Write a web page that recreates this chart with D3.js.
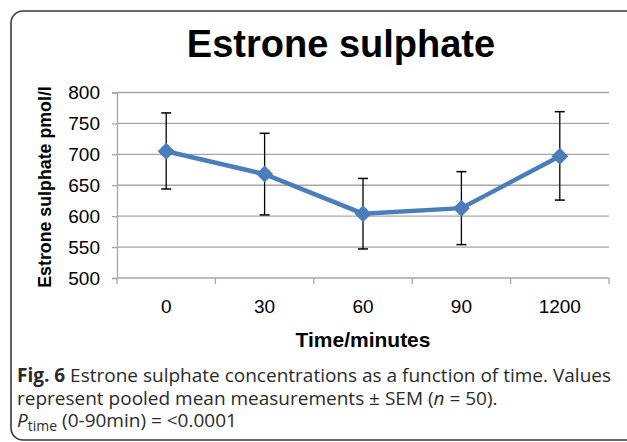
<!DOCTYPE html>
<html>
<head>
<meta charset="utf-8">
<script src="https://cdn.jsdelivr.net/npm/d3@7"></script>
<style>
  body { margin: 0; background: #fff; }
  svg { display: block; }
</style>
</head>
<body>
<div id="chart"></div>
<script>
var times = ["0", "30", "60", "90", "1200"];
var means = [705, 668, 604, 613, 697];
var upper = [767, 734, 661, 672, 769];
var lower = [644, 602, 547, 554, 626];
var yTicks = [500, 550, 600, 650, 700, 750, 800];

var W = 627, H = 442;
var plot = { left: 117, right: 609, top: 92.5, bottom: 278 };

var svg = d3.select("#chart").append("svg")
            .attr("width", W)
            .attr("height", H);

// frame round the chart
svg.append("rect")
   .attr("x", 11).attr("y", 11)
   .attr("width", 640).attr("height", 429)
   .attr("rx", 12)
   .style("fill", "none")
   .style("stroke", "#3a3a3a")
   .style("stroke-width", 1.6);

var x = d3.scaleBand().domain(times).range([plot.left, plot.right]);
var y = d3.scaleLinear().domain([500, 800]).range([plot.bottom, plot.top]);

// gridlines
svg.append("g")
   .selectAll("line")
   .data(yTicks.slice(1))
   .enter().append("line")
   .attr("x1", plot.left).attr("x2", plot.right)
   .attr("y1", function(d) { return y(d); })
   .attr("y2", function(d) { return y(d); })
   .style("stroke", "#a6a6a6")
   .style("stroke-width", 1.3);

// y axis
var yAxis = svg.append("g")
               .attr("transform", "translate(" + plot.left + ",0)")
               .call(d3.axisLeft(y).tickValues(yTicks).tickSize(5).tickPadding(12));
yAxis.selectAll("path, line").style("stroke", "#a6a6a6").style("stroke-width", 1.3);
yAxis.selectAll("text")
     .style("font-family", "Liberation Sans, Arial, sans-serif")
     .style("font-size", "19px")
     .style("fill", "#000");

// x axis, ticks sit between the categories
var xAxis = svg.append("g")
               .attr("transform", "translate(0," + plot.bottom + ")");
xAxis.append("line")
     .attr("x1", plot.left).attr("x2", plot.right)
     .style("stroke", "#a6a6a6").style("stroke-width", 1.3);
xAxis.selectAll("line.tick")
     .data(times.concat(["end"]))
     .enter().append("line")
     .attr("class", "tick")
     .attr("x1", function(d, i) { return plot.left + i * x.bandwidth(); })
     .attr("x2", function(d, i) { return plot.left + i * x.bandwidth(); })
     .attr("y1", 0).attr("y2", 6)
     .style("stroke", "#a6a6a6").style("stroke-width", 1.3);
xAxis.selectAll("text")
     .data(times)
     .enter().append("text")
     .attr("x", function(d) { return x(d) + x.bandwidth() / 2; })
     .attr("y", 35)
     .attr("text-anchor", "middle")
     .style("font-family", "Liberation Sans, Arial, sans-serif")
     .style("font-size", "19px")
     .text(function(d) { return d; });

var cx = function(i) { return x(times[i]) + x.bandwidth() / 2; };

// error bars
var err = svg.append("g").selectAll("g")
             .data(means)
             .enter().append("g");
err.append("line")
   .attr("x1", function(d, i) { return cx(i); })
   .attr("x2", function(d, i) { return cx(i); })
   .attr("y1", function(d, i) { return y(upper[i]); })
   .attr("y2", function(d, i) { return y(lower[i]); })
   .style("stroke", "#000").style("stroke-width", 1.3);
[upper, lower].forEach(function(arr) {
  err.append("line")
     .attr("x1", function(d, i) { return cx(i) - 5; })
     .attr("x2", function(d, i) { return cx(i) + 5; })
     .attr("y1", function(d, i) { return y(arr[i]); })
     .attr("y2", function(d, i) { return y(arr[i]); })
     .style("stroke", "#000").style("stroke-width", 1.5);
});

// mean line
var line = d3.line()
             .x(function(d, i) { return cx(i); })
             .y(function(d) { return y(d); });
svg.append("path")
   .datum(means)
   .attr("d", line)
   .style("fill", "none")
   .style("stroke", "#4a7ebb")
   .style("stroke-width", 4.5)
   .style("stroke-linejoin", "round");

// diamond markers
svg.append("g").selectAll("path")
   .data(means)
   .enter().append("path")
   .attr("transform", function(d, i) { return "translate(" + cx(i) + "," + y(d) + ")"; })
   .attr("d", "M0,-8.5L8.5,0L0,8.5L-8.5,0Z")
   .style("fill", "#4a7ebb");

// titles
svg.append("text")
   .attr("x", 341).attr("y", 57)
   .attr("text-anchor", "middle")
   .style("font-family", "Liberation Sans, Arial, sans-serif")
   .style("font-weight", "bold")
   .style("font-size", "38px")
   .text("Estrone sulphate");

svg.append("text")
   .attr("transform", "translate(51,187) rotate(-90)")
   .attr("text-anchor", "middle")
   .style("font-family", "Liberation Sans, Arial, sans-serif")
   .style("font-weight", "bold")
   .style("font-size", "17.8px")
   .text("Estrone sulphate pmol/l");

svg.append("text")
   .attr("x", 363).attr("y", 347)
   .attr("text-anchor", "middle")
   .style("font-family", "Liberation Sans, Arial, sans-serif")
   .style("font-weight", "bold")
   .style("font-size", "21px")
   .text("Time/minutes");

// caption, one text block with a tspan per line
var cap = svg.append("text")
             .attr("x", 17).attr("y", 382)
             .style("font-family", "Open Sans, sans-serif")
             .style("font-size", "19px")
             .style("fill", "#2a2a2a");
cap.append("tspan").style("font-weight", "bold").text("Fig. 6");
cap.append("tspan").text(" Estrone sulphate concentrations as a function of time. Values");
cap.append("tspan").attr("x", 17).attr("dy", 23).text("represent pooled mean measurements \u00b1 SEM (");
cap.append("tspan").style("font-style", "italic").text("n");
cap.append("tspan").text(" = 50).");
cap.append("tspan").attr("x", 17).attr("dy", 22).style("font-style", "italic").text("P");
cap.append("tspan").attr("dy", 4).style("font-size", "14px").text("time");
cap.append("tspan").attr("dy", -4).text(" (0-90min) = <0.0001");
</script>
</body>
</html>
